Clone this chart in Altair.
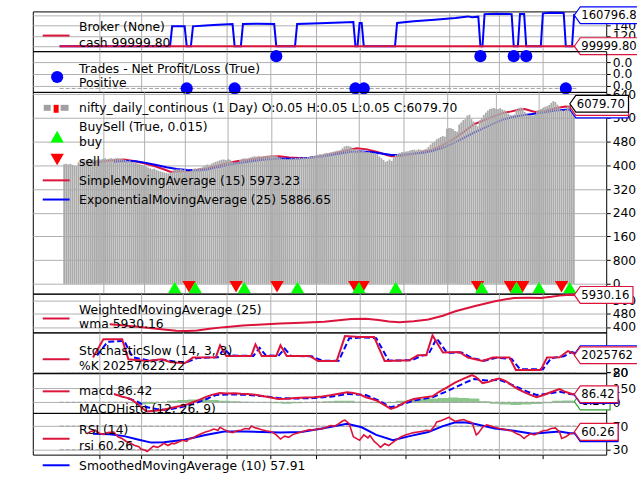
import altair as alt
import pandas as pd

# ---------------- data ----------------
close = [4040, 4055, 4030, 4050, 4020, 3990, 3975, 4100,
         4150, 4180, 4170, 4195, 4160, 4185, 4200, 4175, 4190, 4210, 4200, 4225, 4240, 4215, 4230, 4245, 4220, 4235, 4250, 4230, 4215, 4200,
         4180, 4150, 4165, 4120, 4100, 4080, 4060, 4040, 4010, 3990,
         3960, 3930, 3900, 3870, 3890, 3850, 3820, 3800, 3780, 3760,
         3740, 3725, 3760, 3800, 3840, 3870, 3860, 3880, 3850, 3870,
         3800, 3790, 3820, 3880, 3900, 3870, 3890, 3920,
         3960, 4000, 4030, 4010, 4060, 4090, 4120, 4140,
         4170, 4190, 4200, 4180, 4210, 4190, 4120, 4100, 4090, 4110, 4180, 4220, 4240, 4230, 4250,
         4270, 4290, 4310, 4295, 4320, 4300, 4280, 4310, 4330, 4320, 4340, 4330, 4320, 4310,
         4260, 4240, 4220, 4230, 4210, 4220, 4240, 4230, 4250, 4240, 4260, 4250, 4270, 4260, 4280, 4290,
         4300, 4320, 4340, 4360, 4380, 4370, 4400, 4420, 4410, 4440, 4450, 4470, 4490, 4500, 4520,
         4580, 4640, 4660, 4650, 4630, 4560,
         4520, 4530, 4500, 4480, 4490, 4470, 4450, 4460, 4430, 4410, 4400, 4380,
         4300, 4240, 4180, 4120, 4150, 4200, 4150, 4270, 4350,
         4390, 4420, 4450, 4440, 4470, 4480, 4500,
         4520, 4530, 4510, 4540, 4530, 4520, 4540, 4560,
         4620, 4700, 4760, 4800,
         4880, 4920, 4960, 4990, 4970,
         5240, 5260, 5250, 5230,
         5160, 5140,
         5380, 5450, 5530, 5560,
         5680, 5710,
         5560, 5480, 5400, 5320,
         5520, 5600, 5700, 5780, 5850,
         5900, 5920, 5940, 5910, 5900, 5930, 5890, 5860,
         5790, 5740, 5700, 5690, 5720,
         5880, 5930, 5950, 5920,
         5800, 5720, 5690, 5700, 5680, 5720,
         5830, 5870, 5900, 5950, 5980, 6000, 6040,
         6110, 6170, 6140,
         6050, 5960, 5870, 5840, 5880,
         5990, 6040, 6060, 6079.70]
N = len(close)

sma_i = [14, 19, 24, 29, 34, 39, 44, 49, 52, 55, 60, 65, 70, 75, 80, 85, 90, 95, 100, 105, 110, 115, 120, 125, 130, 135, 140, 143, 148, 153, 158, 160, 165, 170, 175, 180, 185, 190, 195, 200, 205, 210, 215, 218, 222, 225, 230, 235, 240, 245, 249]
sma_v = [4080, 4130, 4170, 4195, 4150, 4070, 3980, 3860, 3780, 3790, 3810, 3850, 3900, 3990, 4080, 4150, 4180, 4240, 4290, 4310, 4270, 4245, 4260, 4310, 4380, 4450, 4540, 4575, 4540, 4450, 4340, 4310, 4320, 4380, 4450, 4520, 4680, 4880, 5120, 5380, 5520, 5660, 5780, 5815, 5880, 5900, 5800, 5840, 5930, 5985, 5973.23]

ema_i = [24, 30, 35, 40, 45, 50, 55, 60, 65, 70, 75, 80, 85, 90, 95, 100, 105, 110, 115, 120, 125, 130, 135, 140, 145, 150, 155, 160, 165, 170, 175, 180, 185, 190, 195, 200, 205, 210, 215, 220, 225, 230, 235, 240, 245, 249]
ema_v = [4120, 4150, 4140, 4085, 4010, 3940, 3880, 3845, 3830, 3860, 3940, 4010, 4070, 4120, 4170, 4210, 4230, 4225, 4235, 4255, 4290, 4340, 4400, 4460, 4470, 4450, 4400, 4350, 4360, 4390, 4420, 4480, 4590, 4740, 4920, 5100, 5260, 5420, 5560, 5640, 5700, 5740, 5790, 5850, 5880, 5886.65]

buy_i = [54, 64, 88, 114, 144, 162, 204, 221, 232, 247]
sell_i = [61, 84, 104, 142, 146, 202, 218, 224, 243]

bv_i = [0, 53, 54, 60, 61, 63, 64, 70, 76, 83, 84, 87, 88, 95, 103, 104, 113, 114, 125, 135, 141, 142, 143, 144, 145, 146, 161, 162, 170, 180, 190, 196, 198, 201, 202, 203, 204, 210, 217, 218, 220, 221, 223, 224, 231, 232, 236, 242, 243, 246, 247, 248, 249]
bv_v = [100000, 100000, 139000, 139000, 100000, 100000, 139000, 140500, 142000, 143500, 100000, 100000, 143500, 144000, 143500, 100000, 100000, 143500, 145000, 146500, 147400, 100000, 100000, 145500, 145500, 100000, 100000, 145500, 149000, 152000, 155500, 158500, 157000, 158000, 100000, 100000, 163000, 163500, 163000, 100000, 100000, 163000, 163000, 100000, 100000, 164500, 165500, 165000, 100000, 100000, 161500, 161000, 160796.8]
cash_value = 99999.80

trade_pos_i = [61, 84, 142, 146, 243]
trade_top_i = [104, 202, 218, 224]

wma_i = [24, 30, 36, 42, 50, 56, 61, 66, 72, 79, 88, 97, 106, 116, 127, 134, 140, 147, 153, 158, 163, 170, 177, 184, 190, 199, 209, 218, 225, 231, 236, 240, 245, 249]
wma_v = [4160, 4100, 4020, 3952, 3840, 3770, 3748, 3790, 3890, 3988, 4080, 4150, 4210, 4252, 4312, 4400, 4480, 4492, 4420, 4330, 4290, 4340, 4450, 4680, 4948, 5248, 5548, 5752, 5760, 5752, 5820, 5890, 5940, 5930.16]

stk_i = [16, 21, 30, 33, 42, 49, 53, 60, 64, 75, 77, 80, 92, 94, 97, 104, 106, 109, 120, 124, 133, 137, 144, 151, 156, 168, 172, 176, 179, 184, 192, 196, 203, 208, 216, 219, 231, 234, 240, 244, 249]
stk_v = [17.6e6, 38.8e6, 38.8e6, 15.6e6, 13.7e6, 15.6e6, 12.5e6, 11.0e6, 17.6e6, 18.0e6, 31.8e6, 19.5e6, 19.5e6, 33.0e6, 19.5e6, 19.5e6, 31.8e6, 19.5e6, 19.5e6, 13.7e6, 13.7e6, 42.6e6, 41.4e6, 41.4e6, 13.7e6, 14.5e6, 20.3e6, 20.3e6, 43.4e6, 23.4e6, 24.0e6, 17.6e6, 13.7e6, 17.6e6, 17.6e6, 3.2e6, 3.2e6, 17.6e6, 18.0e6, 25.2e6, 20257622.22]
std_i = [18, 23, 31, 35, 43, 50, 55, 61, 66, 76, 79, 82, 93, 96, 99, 105, 108, 111, 121, 126, 134, 139, 146, 152, 158, 169, 174, 177, 181, 186, 193, 198, 204, 210, 217, 221, 232, 236, 242, 246, 249]
std_v = [20e6, 36e6, 37e6, 18e6, 14e6, 15e6, 13e6, 12e6, 17e6, 18e6, 28e6, 20e6, 19.5e6, 29e6, 20e6, 19.5e6, 28e6, 19.5e6, 19e6, 14e6, 14e6, 40e6, 41e6, 40e6, 14e6, 14.5e6, 20e6, 21e6, 40e6, 23e6, 23.5e6, 17e6, 14e6, 17.5e6, 16e6, 4e6, 4e6, 17e6, 19e6, 24e6, 21.5e6]

macd_i = [26, 28, 30, 32, 34, 36, 38, 40, 42, 44, 47, 50, 53, 55, 58, 61, 64, 67, 70, 73, 77, 80, 84, 87, 90, 94, 98, 102, 105, 109, 113, 118, 122, 126, 130, 134, 138, 141, 144, 147, 150, 153, 156, 159, 162, 165, 168, 170, 174, 179, 182, 186, 190, 194, 198, 200, 203, 206, 209, 211, 214, 217, 220, 223, 226, 229, 232, 236, 240, 243, 246, 249]
macd_v = [89, 75, 60, 50, 35, 5, -30, -70, -100, -95, -90, -80, -65, -54, -40, -25, 0, 25, 55, 80, 100, 95, 98, 92, 89, 80, 65, 48, 35, 38, 45, 50, 54, 62, 75, 92, 107, 100, 85, 54, 35, 10, -30, -72, -50, -10, 20, 35, 50, 64, 110, 160, 214, 255, 292, 270, 207, 220, 245, 257, 230, 185, 142, 110, 80, 54, 75, 110, 142, 110, 89, 86.42]
sig_i = [33, 37, 42, 47, 51, 57, 64, 70, 75, 82, 90, 98, 105, 113, 122, 130, 138, 147, 153, 159, 165, 170, 179, 185, 190, 195, 199, 205, 211, 215, 220, 225, 229, 235, 240, 245, 249]
sig_v = [40, 10, -54, -75, -80, -60, -20, 30, 78, 85, 80, 65, 45, 40, 45, 60, 89, 78, 20, -54, -20, 18, 54, 110, 160, 215, 250, 235, 242, 210, 160, 110, 78, 95, 114, 90, 78.22]
hist_i = [34, 39, 44, 49, 54, 59, 64, 69, 74, 79, 84, 89, 94, 99, 104, 109, 114, 119, 124, 129, 134, 139, 144, 149, 154, 159, 164, 169, 174, 179, 184, 189, 194, 199, 204, 209, 214, 219, 224, 229, 234, 239, 244, 249]
hist_v = [-10, -25, -20, -5, 15, 25, 30, 35, 25, 15, 10, 5, 0, -5, -10, -15, -10, 0, 5, 10, 15, 15, 5, -5, -10, -5, 15, 25, 35, 40, 45, 50, 45, 40, 10, -15, -25, -30, -25, -20, -10, 15, 20, 8.2]

rsi_i = [13, 15, 17, 19, 21, 23, 26, 28, 30, 32, 34, 36, 38, 39, 41, 42, 44, 45, 47, 49, 50, 52, 54, 55, 57, 59, 61, 62, 64, 66, 68, 70, 72, 74, 76, 77, 79, 81, 83, 85, 87, 89, 91, 92, 94, 96, 97, 99, 101, 102, 104, 106, 108, 110, 112, 114, 116, 118, 120, 122, 124, 126, 128, 130, 132, 134, 136, 137, 139, 141, 143, 144, 146, 148, 149, 151, 153, 154, 156, 158, 159, 161, 163, 164, 166, 168, 170, 172, 174, 176, 178, 180, 181, 183, 185, 187, 188, 190, 192, 194, 196, 198, 200, 201, 203, 205, 207, 209, 211, 213, 215, 217, 219, 221, 223, 224, 226, 228, 230, 232, 234, 236, 238, 240, 241, 243, 245, 247, 249]
rsi_v = [57, 61, 63, 58, 56, 59, 60, 52, 49, 44, 41, 37, 35, 31, 29, 27, 33, 36, 34, 38, 41, 37, 41, 40, 43, 46, 44, 48, 50, 54, 57, 60, 62, 65, 63, 68, 64, 61, 59, 62, 63, 66, 65, 70, 67, 65, 64, 62, 61, 60, 55, 48, 53, 51, 56, 58, 60, 62, 64, 63, 66, 65, 68, 71, 70, 74, 79, 80, 74, 52, 48, 46, 55, 50, 54, 44, 38, 34, 40, 37, 40, 45, 50, 52, 55, 57, 59, 60, 61, 63, 62, 70, 77, 79, 82, 85, 82, 78, 80, 81, 78, 76, 55, 58, 68, 72, 70, 68, 66, 65, 63, 62, 58, 55, 49, 52, 57, 55, 59, 62, 63, 66, 67, 60, 49, 52, 57, 58, 60.26]
smma_i = [16, 24, 31, 38, 44, 50, 60, 70, 79, 88, 97, 106, 116, 126, 138, 145, 152, 160, 168, 177, 184, 190, 195, 199, 209, 218, 227, 234, 240, 245, 249]
smma_v = [57, 56, 53, 47, 42, 42.5, 47, 55, 61, 61, 60, 59, 60, 66, 74, 68, 55, 46, 53, 60, 70, 76.5, 76, 74, 66, 62, 57, 59, 61, 58, 57.91]

grid_idx = [19, 39, 59, 80, 101, 123, 144, 166, 187, 211, 232]

# ---------------- styling ----------------
X_DOM = [-12.9, 262.4]
W = 577
FONT = "DejaVu Sans"
FS = 12.4
BFS = 11.7
CRIMSON = "#dc143c"
BLUE = "#0000ff"
GRID_C = "#b0b0b0"
ONE = pd.DataFrame({"k": [0]})
LX = 46.6
LS1, LS2 = 10, 37
LM = 24.5
TEXT_LIMIT = 56
ELL = "\u200b"


def xe(field="i", ticks=False):
    return alt.X(f"{field}:Q", scale=alt.Scale(domain=X_DOM, nice=False, zero=False),
                 axis=alt.Axis(values=grid_idx, grid=True, gridColor=GRID_C, gridWidth=1,
                               labels=False, ticks=ticks, tickSize=4, tickColor="black",
                               domain=False, title=None))


def make_ye(dom, vals, fmt="d"):
    def ye(field="v"):
        return alt.Y(f"{field}:Q", scale=alt.Scale(domain=dom, nice=False, zero=False),
                     axis=alt.Axis(orient="right", values=vals, format=fmt, grid=True,
                                   gridColor=GRID_C, gridWidth=1, domain=False, ticks=True,
                                   tickSize=4, tickColor="black", labelColor="black",
                                   labelFont=FONT, labelFontSize=FS, labelPadding=2,
                                   labelOverlap=False, title=None,
                                   labelExpr="substring(datum.label, 0, 3)"))
    return ye


def df2(ii, vv):
    return pd.DataFrame({"i": ii, "v": vv})


def txt(s, x, y):
    return alt.Chart(ONE).mark_text(align="left", baseline="middle", font=FONT, fontSize=FS,
                                    color="black", text=s).encode(x=alt.value(x), y=alt.value(y))


def sample(y, color, dash=None):
    kw = {"strokeDash": dash} if dash else {}
    return alt.Chart(ONE).mark_rule(color=color, strokeWidth=2, **kw).encode(
        x=alt.value(LS1), x2=alt.value(LS2), y=alt.value(y))


def vbox(ye, xt, value, text, color, w, open_right=False):
    d = pd.DataFrame({"i": [N - 1], "v": [value]})
    r = w / 2.0
    hh = 8.5 / r
    tip = 6.0 / r
    a = -1 + tip
    if open_right:
        path = f"M 1 {-hh:.4f} L {a:.4f} {-hh:.4f} L -1 0 L {a:.4f} {hh:.4f} L 1 {hh:.4f}"
    else:
        path = f"M -1 0 L {a:.4f} {-hh:.4f} L 1 {-hh:.4f} L 1 {hh:.4f} L {a:.4f} {hh:.4f} Z"
    box = alt.Chart(d).mark_point(shape=path, size=w * w, filled=True, fill="white",
                                  stroke=color, strokeWidth=1.2, opacity=1,
                                  xOffset=w / 2.0 - 4).encode(x=xt, y=ye())
    t = alt.Chart(d).mark_text(align="left", baseline="middle", dx=3, font=FONT, fontSize=BFS,
                               color="black", text=text, limit=TEXT_LIMIT, ellipsis=ELL).encode(x=xt, y=ye())
    return [box, t]


# ---------------- panel 1: broker ----------------
ye_b = make_ye([90245, 168290], [100000, 120000, 140000, 160000])
xb = xe()
broker = alt.layer(
    alt.Chart(df2(bv_i, bv_v)).mark_line(color=BLUE, strokeWidth=2).encode(x=xb, y=ye_b()),
    alt.Chart(df2([0, N - 1], [cash_value, cash_value])).mark_line(color=CRIMSON, strokeWidth=2).encode(x=xb, y=ye_b()),
    sample(24.3, CRIMSON),
    txt("Broker (None)", LX, 16),
    txt("cash 99999.80", LX, 31.7),
    *vbox(ye_b, xb, bv_v[-1], "160796.80", BLUE, 63, open_right=True),
    *vbox(ye_b, xb, cash_value, "99999.80", CRIMSON, 63, open_right=True),
).properties(width=W, height=40)

# ---------------- panel 2: trades ----------------
ye_t = make_ye([0.0005, 0.003917], [0.001, 0.002, 0.003], ".2f")
xt_ = xe()
trades = alt.layer(
    alt.Chart(df2([0, N - 1], [0.00079, 0.00079])).mark_line(color="#a0a0a0", strokeWidth=1, strokeDash=[4, 2]).encode(x=xt_, y=ye_t()),
    alt.Chart(df2(trade_pos_i, [0.00079] * len(trade_pos_i))).mark_point(shape="circle", filled=True, color=BLUE, size=150, opacity=1).encode(x=xt_, y=ye_t()),
    alt.Chart(df2(trade_top_i, [0.0035] * len(trade_top_i))).mark_point(shape="circle", filled=True, color=BLUE, size=150, opacity=1).encode(x=xt_, y=ye_t()),
    alt.Chart(ONE).mark_point(shape="circle", filled=True, color=BLUE, size=150, opacity=1).encode(x=alt.value(LM), y=alt.value(26)),
    txt("Trades - Net Profit/Loss (True)", LX, 18),
    txt("Positive", LX, 32),
).properties(width=W, height=41)

# ---------------- panel 3: price ----------------
ye_m = make_ye([-330, 6480], [0, 800, 1600, 2400, 3200, 4000, 4800, 5600, 6400])
xm = xe()
price_df = pd.DataFrame({"i": list(range(N)), "v": close, "o": [0.05] * N})
main = alt.layer(
    alt.Chart(df2(sma_i, sma_v)).mark_line(color=CRIMSON, strokeWidth=2).encode(x=xm, y=ye_m()),
    alt.Chart(df2(ema_i, ema_v)).mark_line(color=BLUE, strokeWidth=2).encode(x=xm, y=ye_m()),
    alt.Chart(price_df).mark_bar(size=1.8, color="#aaaaaa").encode(x=xm, y=ye_m(), y2="o:Q"),
    alt.Chart(df2(sell_i, [-95] * len(sell_i))).mark_point(shape="triangle-down", filled=True, color="#ff0000", size=180, opacity=1).encode(x=xm, y=ye_m()),
    alt.Chart(df2(buy_i, [-125] * len(buy_i))).mark_point(shape="triangle-up", filled=True, color="#00ff00", size=180, opacity=1).encode(x=xm, y=ye_m()),
    alt.Chart(ONE).mark_rect(color="#a0a0a0").encode(x=alt.value(11), x2=alt.value(18), y=alt.value(13), y2=alt.value(19)),
    alt.Chart(ONE).mark_rect(color="#ff0000").encode(x=alt.value(21), x2=alt.value(26), y=alt.value(13), y2=alt.value(21)),
    alt.Chart(ONE).mark_rect(color="#a0a0a0").encode(x=alt.value(28), x2=alt.value(36), y=alt.value(13), y2=alt.value(19)),
    txt("nifty_daily_continous (1 Day) O:0.05 H:0.05 L:0.05 C:6079.70", LX, 16.3),
    txt("BuySell (True, 0.015)", LX, 35),
    alt.Chart(ONE).mark_point(shape="triangle-up", filled=True, color="#00ff00", size=180, opacity=1).encode(x=alt.value(LM), y=alt.value(45)),
    txt("buy", LX, 50.7),
    alt.Chart(ONE).mark_point(shape="triangle-down", filled=True, color="#ff0000", size=180, opacity=1).encode(x=alt.value(LM), y=alt.value(68)),
    txt("sell", LX, 70.7),
    sample(89, CRIMSON),
    txt("SimpleMovingAverage (15) 5973.23", LX, 89.5),
    sample(108.3, BLUE),
    txt("ExponentialMovingAverage (25) 5886.65", LX, 108.8),
    *vbox(ye_m, xm, ema_v[-1], "5886.65", BLUE, 59),
    *vbox(ye_m, xm, sma_v[-1], "5973.23", CRIMSON, 59),
    *vbox(ye_m, xm, close[-1], "6079.70", "black", 59),
).properties(width=W, height=203)

# ---------------- panel 4: WMA ----------------
ye_w = make_ye([3670, 6010], [4000, 4800, 5600])
xw = xe()
wma = alt.layer(
    alt.Chart(df2(wma_i, wma_v)).mark_line(color=CRIMSON, strokeWidth=2).encode(x=xw, y=ye_w()),
    sample(25, CRIMSON),
    txt("WeightedMovingAverage (25)", LX, 16.7),
    txt("wma 5930.16", LX, 31),
    *vbox(ye_w, xw, wma_v[-1], "5930.16", CRIMSON, 59),
).properties(width=W, height=39)

# ---------------- panel 5: stochastic ----------------
ye_s = make_ye([-580000, 46880000], [20, 80])
xs = xe()
stoch = alt.layer(
    alt.Chart(df2([0, N - 1, 0, N - 1], [20, 20, 80, 80]).assign(g=["a", "a", "b", "b"])).mark_line(color="#a0a0a0", strokeWidth=1, strokeDash=[4, 2]).encode(x=xs, y=ye_s(), detail="g:N"),
    alt.Chart(df2(std_i, std_v)).mark_line(color=BLUE, strokeWidth=2, strokeDash=[6, 3]).encode(x=xs, y=ye_s()),
    alt.Chart(df2(stk_i, stk_v)).mark_line(color=CRIMSON, strokeWidth=2).encode(x=xs, y=ye_s()),
    sample(27, CRIMSON),
    txt("StochasticSlow (14, 3, 3)", LX, 18.7),
    txt("%K 20257622.22", LX, 33.7),
    *vbox(ye_s, xs, std_v[-1], "21500000.00", BLUE, 63, open_right=True),
    *vbox(ye_s, xs, stk_v[-1], "20257622.22", CRIMSON, 63, open_right=True),
).properties(width=W, height=41)

# ---------------- panel 6: MACD ----------------
ye_c = make_ye([-115, 314], [0, 150])
xc = xe()
macd = alt.layer(
    alt.Chart(df2(hist_i, hist_v)).mark_area(color="#80c080", opacity=0.9, interpolate="step").encode(x=xc, y=ye_c(), y2=alt.datum(0)),
    alt.Chart(df2([0, N - 1], [0, 0])).mark_line(color="#a0a0a0", strokeWidth=1, strokeDash=[4, 2]).encode(x=xc, y=ye_c()),
    alt.Chart(df2(sig_i, sig_v)).mark_line(color=BLUE, strokeWidth=2, strokeDash=[6, 3]).encode(x=xc, y=ye_c()),
    alt.Chart(df2(macd_i, macd_v)).mark_line(color=CRIMSON, strokeWidth=2).encode(x=xc, y=ye_c()),
    sample(18.3, CRIMSON),
    txt("macd 86.42", LX, 17.7),
    txt("MACDHisto (12, 26, 9)", LX, 36),
    *vbox(ye_c, xc, hist_v[-1], "8.20", "#2ca02c", 36),
    *vbox(ye_c, xc, sig_v[-1], "78.22", BLUE, 44),
    *vbox(ye_c, xc, macd_v[-1], "86.42", CRIMSON, 44),
).properties(width=W, height=40)

# ---------------- panel 7: RSI ----------------
ye_r = make_ye([21.6, 92.4], [30, 70])
xr = xe(ticks=True)
rsi = alt.layer(
    alt.Chart(df2([0, N - 1, 0, N - 1], [30, 30, 70, 70]).assign(g=["a", "a", "b", "b"])).mark_line(color="#a0a0a0", strokeWidth=1, strokeDash=[4, 2]).encode(x=xr, y=ye_r(), detail="g:N"),
    alt.Chart(df2(smma_i, smma_v)).mark_line(color=BLUE, strokeWidth=2).encode(x=xr, y=ye_r()),
    alt.Chart(df2(rsi_i, rsi_v)).mark_line(color=CRIMSON, strokeWidth=1.6).encode(x=xr, y=ye_r()),
    txt("RSI (14)", LX, 17.7),
    sample(26, CRIMSON),
    txt("rsi 60.26", LX, 33.3),
    sample(52.7, BLUE),
    txt("SmoothedMovingAverage (10) 57.91", LX, 53),
    *vbox(ye_r, xr, smma_v[-1], "57.91", BLUE, 44),
    *vbox(ye_r, xr, rsi_v[-1], "60.26", CRIMSON, 44),
).properties(width=W, height=42)

chart = alt.vconcat(broker, trades, main, wma, stoch, macd, rsi, spacing=0, bounds="flush").properties(
    padding={"left": 32, "top": 2, "right": 0, "bottom": 0},
    background="white",
).configure_view(stroke="black", strokeWidth=1)

chart.save("out.html", embed_options={"renderer": "svg", "actions": False})
